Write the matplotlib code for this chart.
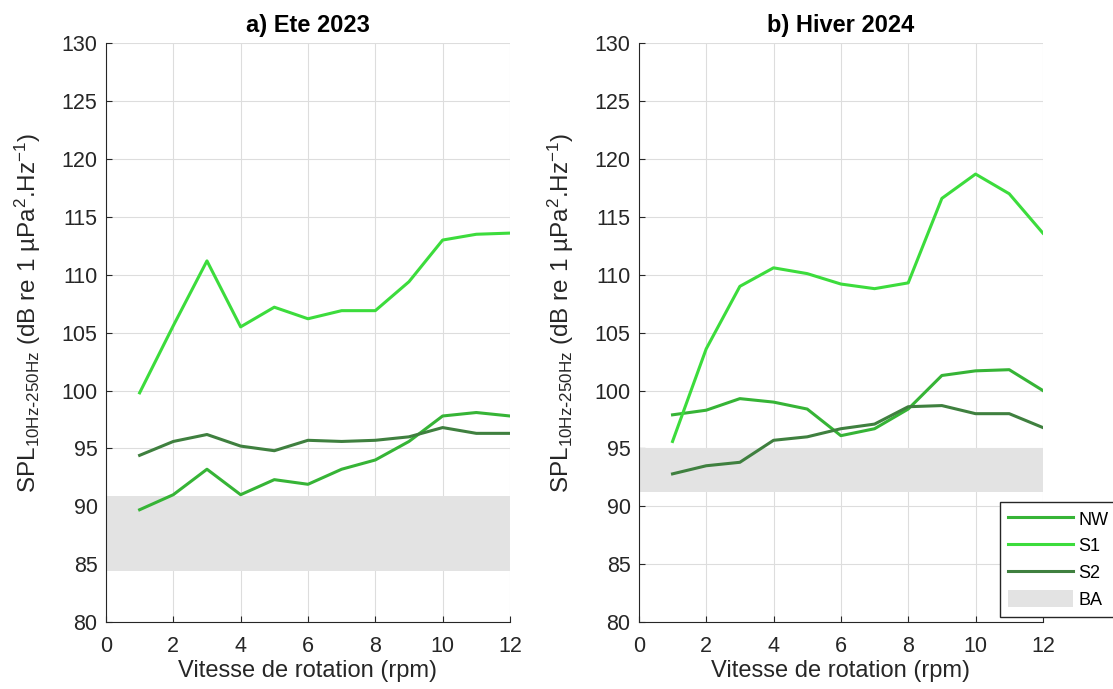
import matplotlib
matplotlib.use("Agg")
import matplotlib.pyplot as plt

plt.rcParams['font.family'] = ['Liberation Sans', 'DejaVu Sans']
plt.rcParams['mathtext.default'] = 'regular'

rpm = [1, 2, 3, 4, 5, 6, 7, 8, 9, 10, 11, 12]

# a) Ete 2023
nw_ete = [89.7, 91.0, 93.2, 91.0, 92.3, 91.9, 93.2, 94.0, 95.6, 97.8, 98.1, 97.8]
s1_ete = [99.8, 105.6, 111.2, 105.5, 107.2, 106.2, 106.9, 106.9, 109.4, 113.0, 113.5, 113.6]
s2_ete = [94.4, 95.6, 96.2, 95.2, 94.8, 95.7, 95.6, 95.7, 96.0, 96.8, 96.3, 96.3]
ba_ete = [84.4, 90.9]

# b) Hiver 2024
nw_hiv = [97.9, 98.3, 99.3, 99.0, 98.4, 96.1, 96.7, 98.4, 101.3, 101.7, 101.8, 100.0]
s1_hiv = [95.6, 103.6, 109.0, 110.6, 110.1, 109.2, 108.8, 109.3, 116.6, 118.7, 117.0, 113.6]
s2_hiv = [92.8, 93.5, 93.8, 95.7, 96.0, 96.7, 97.1, 98.6, 98.7, 98.0, 98.0, 96.8]
ba_hiv = [91.2, 95.0]

c_nw = '#36B436'
c_s1 = '#3CDC3C'
c_s2 = '#3F803F'
c_ba = '#E3E3E3'
c_txt = '#262626'

fig = plt.figure(figsize=(11.13, 6.89), dpi=100)
ax1 = fig.add_axes([0.0952, 0.0972, 0.363, 0.840])
ax2 = fig.add_axes([0.574, 0.0972, 0.363, 0.840])

panels = [(ax1, 'a) Ete 2023', nw_ete, s1_ete, s2_ete, ba_ete),
          (ax2, 'b) Hiver 2024', nw_hiv, s1_hiv, s2_hiv, ba_hiv)]

for ax, title, nw, s1, s2, ba in panels:
    ax.axhspan(ba[0], ba[1], color=c_ba, lw=0, label='BA', zorder=1)
    ax.plot(rpm, nw, color=c_nw, lw=2.2, label='NW', zorder=3)
    ax.plot(rpm, s1, color=c_s1, lw=2.2, label='S1', zorder=3)
    ax.plot(rpm, s2, color=c_s2, lw=2.2, label='S2', zorder=3)
    ax.set_xlim(0, 12)
    ax.set_ylim(80, 130)
    ax.set_xticks(range(0, 13, 2))
    ax.set_yticks(range(80, 131, 5))
    ax.grid(True, color='#DDDDDD', lw=0.8, zorder=0)
    ax.set_axisbelow(True)
    for s in ['top', 'right']:
        ax.spines[s].set_visible(False)
    for s in ['left', 'bottom']:
        ax.spines[s].set_color(c_txt)
    ax.tick_params(labelsize=15.5, colors=c_txt, direction='in', length=4)
    ax.tick_params(axis='x', pad=10)
    ax.tick_params(axis='y', pad=6)
    ax.set_title(title, fontsize=17, fontweight='bold', pad=8)
    ax.set_xlabel('Vitesse de rotation (rpm)', fontsize=17, color=c_txt, labelpad=2)
    ax.set_ylabel(r'SPL$_{10Hz\text{-}250Hz}$ (dB re 1 µPa$^2$.Hz$^{-1}$)',
                  fontsize=17.5, color=c_txt)
    ax.yaxis.set_label_coords(-0.155, 0.535)

h, l = ax2.get_legend_handles_labels()
order = [1, 2, 3, 0]
leg = fig.legend([h[i] for i in order], [l[i] for i in order],
                 loc='upper left', bbox_to_anchor=(0.8985, 0.2714),
                 fontsize=13, frameon=True, fancybox=False, edgecolor=c_txt,
                 handlelength=3.6, handleheight=1.05, handletextpad=0.3,
                 borderpad=0.45, labelspacing=0.45, borderaxespad=0,
                 framealpha=1)
leg.get_frame().set_linewidth(1.0)

fig.savefig('out.png', dpi=100)
